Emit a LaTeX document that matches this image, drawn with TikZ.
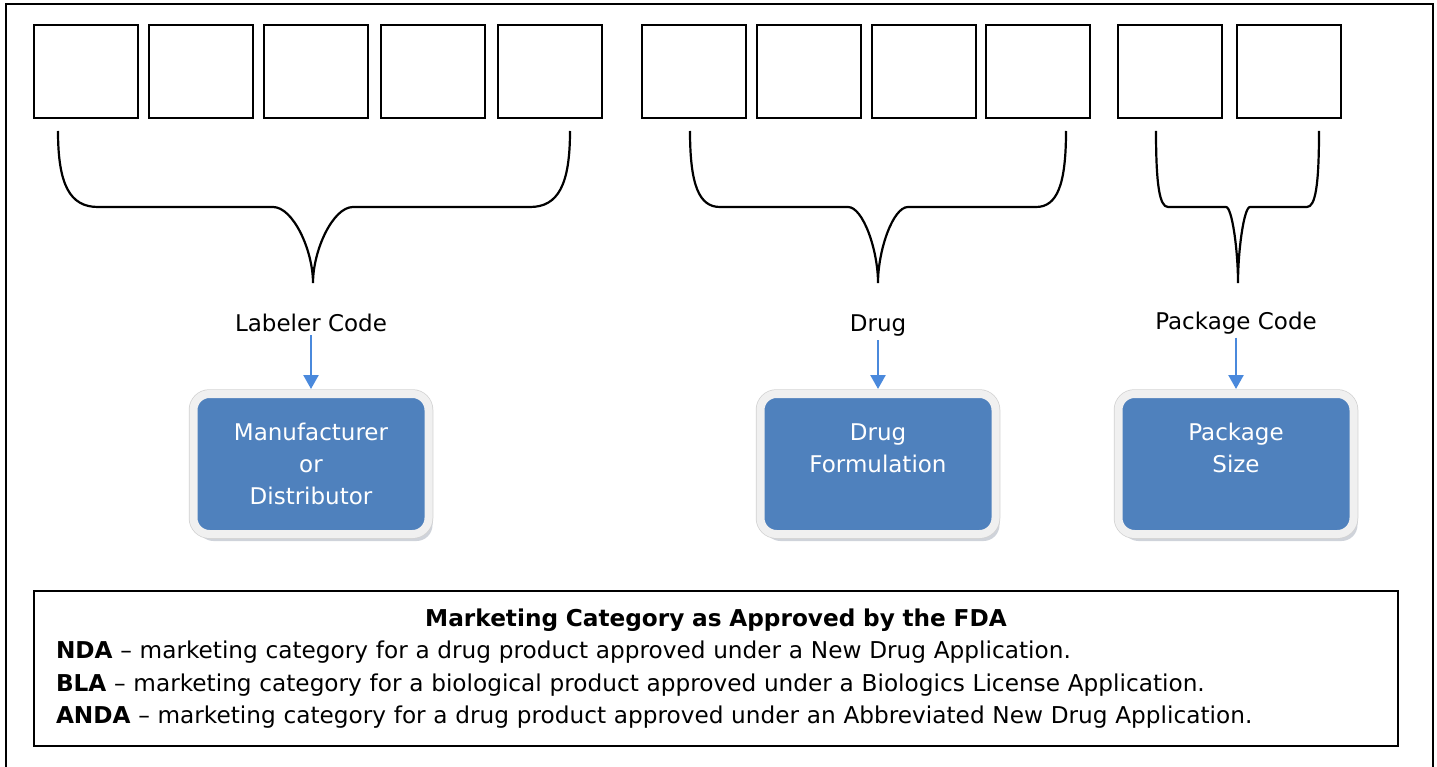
\documentclass[tikz,border=0pt]{standalone}
\usepackage{fontspec}
\setmainfont{DejaVu Sans}
\usetikzlibrary{positioning,shadows,arrows.meta}

\definecolor{boxblue}{HTML}{4F81BD}
\definecolor{arrowblue}{HTML}{4A89DC}
\definecolor{glowgray}{HTML}{F0F0F0}
\definecolor{shadowgray}{HTML}{A0A8B6}

\begin{document}
\begin{tikzpicture}[x=1pt, y=-1pt,
	cell/.style={draw, line width=2.2pt, minimum width=104pt, minimum height=93pt, inner sep=0pt, anchor=north west},
	brace/.style={line width=2.2pt},
	lbl/.style={font=\fontsize{23}{28}\selectfont},
	proc/.style={drop shadow={shadow xshift=4pt, shadow yshift=-7pt, fill=shadowgray},
		preaction={draw=gray!35, line width=9.5pt},
		fill=boxblue, draw=glowgray, line width=8pt, rounded corners=16pt,
		minimum width=235pt, minimum height=140pt, text=white, align=center,
		font=\fontsize{23}{32}\selectfont},
	flow/.style={draw=arrowblue, line width=2.5pt, -{Triangle[length=14pt,width=15pt]}, shorten >=1pt}]
	\useasboundingbox (0,0) rectangle (1437,767);
	
	% outer frame (open at the bottom)
	\draw[line width=2.5pt] (6,767) -- (6,4) -- (1433,4) -- (1433,767);
	
	% ---------------------- the eleven digit cells ----------------------
	\foreach \x [count=\i] in {33,148,263,380,497,641,756,871,985,1117,1236} {
		\node[cell] (cell\i) at (\x,24) {};
	}
	
	% ---------------------- braces: left / right / tip / corner ----------------------
	\foreach \l/\r/\m/\c in {58/570/313/40, 690/1066/878/30, 1156/1319/1238/12} {
		\draw[brace] (\l,131) .. controls (\l,185) and (\l+0.3*\c,207) .. (\l+\c,207)
			-- (\m-\c,207) .. controls (\m-0.5*\c,207) and (\m,250) .. (\m,283)
			.. controls (\m,250) and (\m+0.5*\c,207) .. (\m+\c,207)
			-- (\r-\c,207) .. controls (\r-0.3*\c,207) and (\r,185) .. (\r,131);
	}
	
	% labels under the braces
	\node[lbl] (labeler) at (311,323) {Labeler Code};
	\node[lbl] (drug) at (878,326) {Drug};
	\node[lbl] (pkgcode) at (1236,323) {Package Code};
	
	% what each part stands for
	\node[proc] (maker) at (311,464) {Manufacturer\\or\\Distributor};
	\node[proc] (formula) at (878,464) {Drug\\Formulation\\\mbox{}};
	\node[proc] (pkgsize) at (1236,464) {Package\\Size\\\mbox{}};
	
	\draw[flow] (labeler) -- (maker);
	\draw[flow] (drug) -- (formula);
	\draw[flow] (pkgcode) -- (pkgsize);
	
	% ---------------------- legend ----------------------
	\node[draw, line width=2pt, anchor=north west, minimum width=1364pt, minimum height=155pt,
		text width=1320pt, inner xsep=22pt, align=left, font=\fontsize{23.2}{32.5}\selectfont] (fda) at (33,590) {%
		\hfill\textbf{Marketing Category as Approved by the FDA}\hfill\null\\
		\textbf{NDA} – marketing category for a drug product approved under a New Drug Application.\\
		\textbf{BLA} – marketing category for a biological product approved under a Biologics License Application.\\
		\textbf{ANDA} – marketing category for a drug product approved under an Abbreviated New Drug Application.};
\end{tikzpicture}
\end{document}
